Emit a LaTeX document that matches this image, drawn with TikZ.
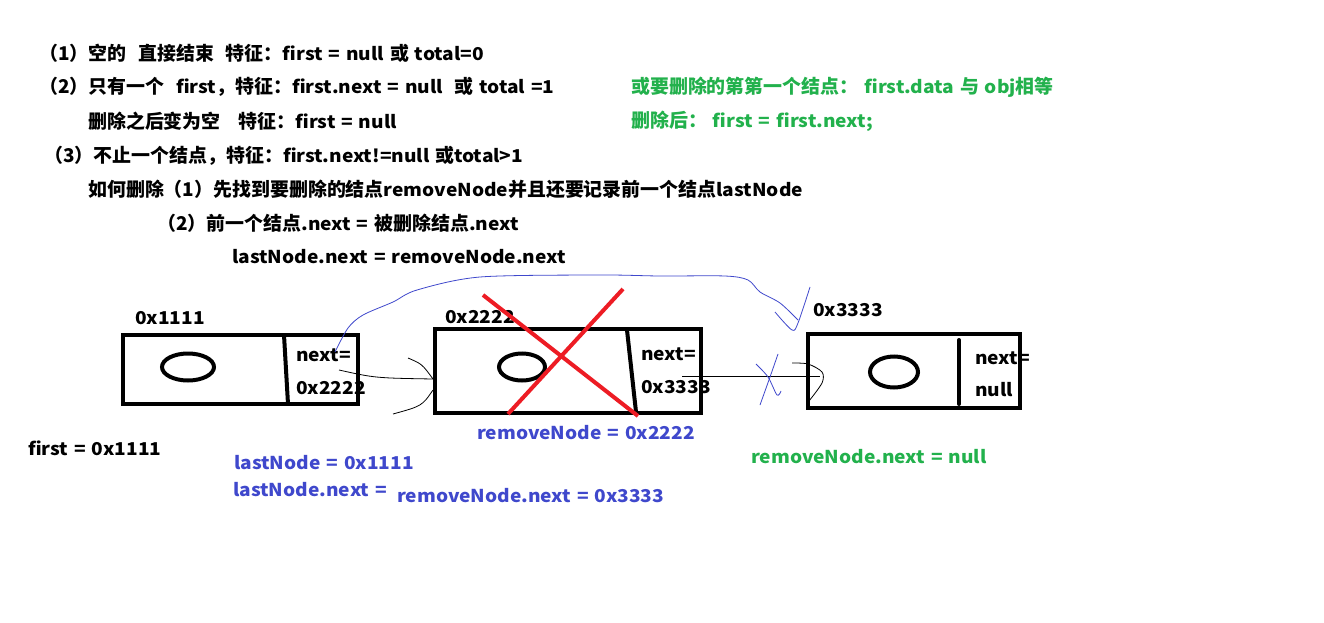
\documentclass[tikz,border=0pt]{standalone}
\usepackage{fontspec}
\setmainfont{Noto Sans CJK SC}[FakeStretch=1.08,WordSpace=1.35]
\newfontfamily\cjk{Noto Sans CJK SC}[Scale=1.07]
\usetikzlibrary{shapes.geometric,calc}

\definecolor{inkblue}{RGB}{63,72,204}
\definecolor{inkgreen}{RGB}{34,177,76}
\definecolor{inkred}{RGB}{237,28,36}

\begin{document}
\begin{tikzpicture}[x=1pt,y=-1pt,
    txt/.style={anchor=west,inner sep=0pt,font=\fontsize{17.7}{20}\selectfont\bfseries},
    listbox/.style={draw,line width=4pt,inner sep=0pt},
    blob/.style={draw,ellipse,line width=4pt,inner sep=0pt,minimum width=52pt,minimum height=27pt},
    pen/.style={line width=0.8pt}]
    \fill[white] (0,0) rectangle (1324,623);
    \useasboundingbox (0,0) rectangle (1324,623);

    % Notes
    \node[txt] (l1) at (39,53) {{\cjk （1）空的}\ \ {\cjk 直接结束}\ \ {\cjk 特征：}first = null {\cjk 或} total=0};
    \node[txt] (l2) at (39,87) {{\cjk （2）只有一个}\ \ first{\cjk ，特征：}first.next = null\ \ {\cjk 或} total =1};
    \node[txt] (l3) at (88,121) {{\cjk 删除之后变为空}\ \ \ {\cjk 特征：}first = null};
    \node[txt] (l4) at (44,156) {{\cjk （3）不止一个结点，特征：}first.next!=null {\cjk 或}total>1};
    \node[txt] (l5) at (88,189) {{\cjk 如何删除（1）先找到要删除的结点}removeNode{\cjk 并且还要记录前一个结点}lastNode};
    \node[txt] (l6) at (157,223) {{\cjk （2）前一个结点}.next = {\cjk 被删除结点}.next};
    \node[txt] (l7) at (232,257) {lastNode.next = removeNode.next};
    \node[txt,inkgreen] (g1) at (631,87) {{\cjk 或要删除的第第一个结点：} first.data {\cjk 与} obj{\cjk 相等}};
    \node[txt,inkgreen] (g2) at (631,121) {{\cjk 删除后：} first = first.next;};

    % List nodes
    \node[listbox,minimum width=235pt,minimum height=69pt] (n1) at (240.5,369.5) {};
    \node[listbox,minimum width=266pt,minimum height=84pt] (n2) at (568,371) {};
    \node[listbox,minimum width=212pt,minimum height=74pt] (n3) at (914,371) {};
    \draw[line width=4pt] (284,335) -- (288,404);
    \draw[line width=4pt] (627,330) -- (636,412);
    \draw[line width=4pt,line cap=round] (959,340) -- (959,404);
    \node[blob] (e1) at (188,367) {};
    \node[blob,minimum width=46pt] (e2) at (522,367) {};
    \node[blob,minimum width=48pt,minimum height=31pt] (e3) at (894,372) {};

    % Addresses and fields
    \node[txt] (a1) at (135,318) {0x1111};
    \node[txt] (a2) at (445,317) {0x2222};
    \node[txt] (a3) at (813,310) {0x3333};
    \node[txt] (f1) at (296,355) {next=};
    \node[txt] (f2) at (296,388) {0x2222};
    \node[txt] (f3) at (641,354) {next=};
    \node[txt] (f4) at (641,387) {0x3333};
    \node[txt] (f5) at (975,358) {next=};
    \node[txt] (f6) at (975,390) {null};

    % Links
    \coordinate (p1) at (339,370);
    \coordinate (tip1) at ($(n2.west)+(0,8)$);
    \draw[pen] (p1) .. controls (375,378) .. (tip1);
    \draw[pen] (408,358) .. controls (422,364) .. (tip1);
    \draw[pen] ($(tip1)+(0,11)$) .. controls (422,406) .. (393,414);
    \coordinate (p2) at (682,376);
    \coordinate (tip2) at ($(n3.west)+(14,5)$);
    \draw[pen] (p2) -- (tip2);
    \draw[pen] plot[smooth] coordinates {(792,363) (808,364) (822,372) (822,383) (809,401)};

    % New link and cut
    \draw[inkblue,pen] plot[smooth] coordinates {(335,352) (348,328) (363,315) (393,302) (417,290) (480,277) (600,275) (660,276) (725,276) (748,280) (760,292) (780,303) (798,320)};
    \draw[inkblue,pen] plot[smooth] coordinates {(775,312) (792,330) (798,323) (810,287)};
    \draw[inkblue,pen] plot[smooth] coordinates {(756,364) (768,377) (777,395) (781,391)};
    \draw[inkblue,pen] plot[smooth] coordinates {(778,354) (770,377) (760,405)};
    \draw[inkred,line width=4pt] (483,295) -- (638,416);
    \draw[inkred,line width=4pt] (623,289) -- (508,414);

    % Values
    \node[txt] (v1) at (28,448) {first = 0x1111};
    \node[txt,inkblue] (v2) at (477,433) {removeNode = 0x2222};
    \node[txt,inkblue] (v3) at (234,463) {lastNode = 0x1111};
    \node[txt,inkblue] (v4) at (233,490) {lastNode.next =};
    \node[txt,inkblue] (v5) at (397,496) {removeNode.next = 0x3333};
    \node[txt,inkgreen] (v6) at (751,457) {removeNode.next = null};
\end{tikzpicture}
\end{document}
